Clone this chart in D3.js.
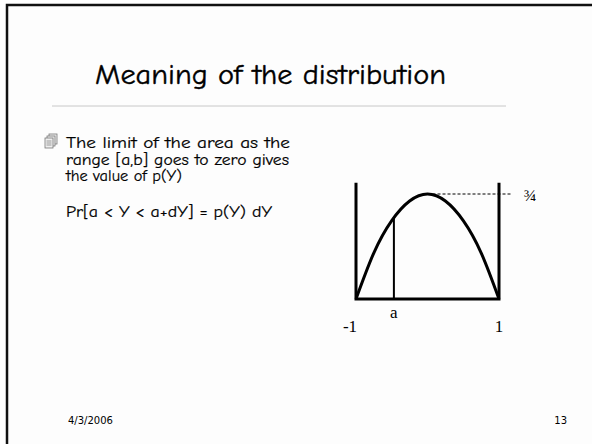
<!DOCTYPE html>
<html>
<head>
<meta charset="utf-8">
<script src="https://cdn.jsdelivr.net/npm/d3@7"></script>
<style>
  html, body { margin: 0; padding: 0; background: #fff; }
  svg { display: block; }
</style>
</head>
<body>
<div id="slide"></div>
<script>
// slide text
const title = "Meaning of the distribution"
const bulletLines = ["The limit of the area as the", "range [a,b] goes to zero gives", "the value of p(Y)"]
const formulaLine = "Pr[a < Y < a+dY] = p(Y) dY"
const footerDate = "4/3/2006"
const footerPage = "13"

// density curve
const curveX = [-1, -0.75, -0.5, -0.25, 0, 0.25, 0.5, 0.75, 1]
const curveY = [0, 0.33, 0.56, 0.70, 0.75, 0.70, 0.56, 0.33, 0]
const aValue = -0.47
const axisTop = 0.83
const peakLabel = "\u00BE"
const dashEnd = 1.18
const tickValues = [-1, aValue, 1]
const tickLabels = ["-1", "a", "1"]

const width = 592, height = 444
const comic = "'Comic Sans MS', 'Comic Neue', 'Open Sans', sans-serif"

const svg = d3.select("#slide").append("svg")
    .attr("width", width)
    .attr("height", height)

svg.append("rect").attr("width", width).attr("height", height).attr("fill", "#fff")
svg.append("rect")
    .attr("x", 7).attr("y", 5)
    .attr("width", width).attr("height", height)
    .attr("fill", "#fdfdfd")
    .attr("stroke", "#111")
    .attr("stroke-width", 2.5)

// title
svg.append("text")
    .attr("x", 95).attr("y", 84)
    .attr("font-family", comic)
    .attr("font-size", 28)
    .attr("textLength", 351)
    .attr("lengthAdjust", "spacingAndGlyphs")
    .attr("fill", "#000")
    .attr("stroke", "#000")
    .attr("stroke-width", 0.4)
    .text(title)

svg.append("line")
    .attr("x1", 52).attr("x2", 506)
    .attr("y1", 106).attr("y2", 106)
    .attr("stroke", "#c8c8c8")
    .attr("stroke-width", 1)

// bullet icon (stack of pages)
const icon = svg.append("g").attr("transform", "translate(45,134)")
;[[4, 0], [2, 2], [0, 4]].forEach(([dx, dy]) => {
    icon.append("rect")
        .attr("x", dx).attr("y", dy)
        .attr("width", 8).attr("height", 10)
        .attr("fill", "#eee").attr("stroke", "#777").attr("stroke-width", 0.8)
})
;[7, 9, 11].forEach(y => icon.append("line")
    .attr("x1", 1.5).attr("x2", 6.5).attr("y1", y).attr("y2", y)
    .attr("stroke", "#777").attr("stroke-width", 0.7))

const lineWidths = [224, 223, 116]
svg.append("g")
    .selectAll("text")
    .data(bulletLines)
    .join("text")
    .attr("x", 66)
    .attr("y", (d, i) => 148 + i * 16.5)
    .attr("font-family", comic)
    .attr("font-size", 16)
    .attr("stroke", "#000")
    .attr("stroke-width", 0.2)
    .attr("textLength", (d, i) => lineWidths[i])
    .attr("lengthAdjust", "spacingAndGlyphs")
    .text(d => d)

svg.append("text")
    .attr("x", 66).attr("y", 217)
    .attr("font-family", comic)
    .attr("font-size", 16)
    .attr("stroke", "#000")
    .attr("stroke-width", 0.2)
    .attr("textLength", 206)
    .attr("lengthAdjust", "spacingAndGlyphs")
    .text(formulaLine)

// the plot
const x = d3.scaleLinear().domain([-1, 1]).range([356, 499])
const y = d3.scaleLinear().domain([0, 0.75]).range([299, 194])

const plot = svg.append("g")

plot.append("path")
    .attr("d", d3.line()([[x(-1), y(axisTop)], [x(-1), y(0)], [x(1), y(0)], [x(1), y(axisTop)]]))
    .attr("fill", "none")
    .attr("stroke", "#000")
    .attr("stroke-width", 3)

plot.append("line")
    .attr("x1", x(0)).attr("x2", x(dashEnd))
    .attr("y1", y(0.75)).attr("y2", y(0.75))
    .attr("stroke", "#000")
    .attr("stroke-width", 1)
    .attr("stroke-dasharray", "3,2")

const points = curveX.map((d, i) => [d, curveY[i]])
plot.append("path")
    .datum(points)
    .attr("d", d3.line().x(d => x(d[0])).y(d => y(d[1])).curve(d3.curveNatural))
    .attr("fill", "none")
    .attr("stroke", "#000")
    .attr("stroke-width", 3)

const aHeight = 0.75 * (1 - aValue * aValue)
plot.append("line")
    .attr("x1", x(aValue)).attr("x2", x(aValue))
    .attr("y1", y(0)).attr("y2", y(aHeight))
    .attr("stroke", "#000")
    .attr("stroke-width", 2)

plot.append("g")
    .selectAll("text")
    .data(tickValues)
    .join("text")
    .attr("x", (d, i) => x(d) + (i === 0 ? -6 : 0))
    .attr("y", (d, i) => i === 1 ? 318 : 332)
    .attr("text-anchor", "middle")
    .attr("font-family", "'Liberation Serif', 'Times New Roman', serif")
    .attr("font-size", 17)
    .text((d, i) => tickLabels[i])

plot.append("text")
    .attr("x", x(dashEnd) + 12).attr("y", 201)
    .attr("font-family", "'Liberation Serif', 'Times New Roman', serif")
    .attr("font-size", 17)
    .text(peakLabel)

// footer
svg.append("text")
    .attr("x", 68).attr("y", 424)
    .attr("font-family", "Tahoma, 'DejaVu Sans', sans-serif")
    .attr("font-size", 10)
    .text(footerDate)

svg.append("text")
    .attr("x", 567).attr("y", 424)
    .attr("text-anchor", "end")
    .attr("font-family", "Tahoma, 'DejaVu Sans', sans-serif")
    .attr("font-size", 10)
    .text(footerPage)
</script>
</body>
</html>
